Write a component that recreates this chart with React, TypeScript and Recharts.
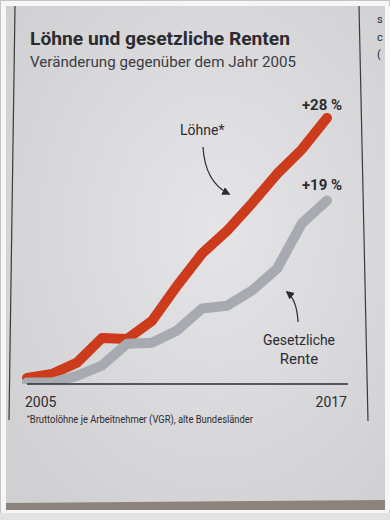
import { LineChart, Line, XAxis, YAxis, LabelList } from 'recharts'

// Veränderung gegenüber 2005, in Prozent
const years = ['2005', '2006', '2007', '2008', '2009', '2010', '2011', '2012', '2013', '2014', '2015', '2016', '2017']
const loehne = [0.5, 0.9, 2.1, 4.7, 4.6, 6.5, 10.2, 13.6, 16.0, 18.9, 22.0, 24.6, 27.9]
const rente = [0, 0, 0.7, 1.8, 4.1, 4.2, 5.5, 7.8, 8.1, 9.7, 12.0, 16.8, 19.2]
const endLabels = { loehne: '+28 %', rente: '+19 %' }
const shownYears = ['2005', '2017']

const RED = '#cd3b1d'
const GREY = '#a7aab0'
const INK = '#2b2b30'
const FONT = 'Roboto, "Open Sans", sans-serif'

const data = years.map((year, i) => ({ year, loehne: loehne[i], rente: rente[i] }))

function YearTick({ x, y, payload }: any) {
  if (!shownYears.includes(payload.value)) return <g />
  const first = payload.value === years[0]
  return (
    <text
      x={first ? x - 2 : x + 20}
      y={y + 15}
      textAnchor={first ? 'start' : 'end'}
      fill={INK}
      fontSize={14}
      fontFamily={FONT}
    >
      {payload.value}
    </text>
  )
}

// Endwert nur am letzten Punkt anzeigen
function endLabel(text: string, dy: number) {
  return (props: any) => {
    if (props.index !== years.length - 1) return null
    return (
      <text
        x={props.x - 5}
        y={props.y + dy}
        textAnchor="middle"
        fill={INK}
        fontSize={15}
        fontWeight={700}
        fontFamily={FONT}
      >
        {text}
      </text>
    )
  }
}

export default function App() {
  return (
    <div style={{ position: 'absolute', left: 0, top: 0, width: 390, height: 520, background: '#f4f4f4' }}>
      {/* Foto-Hintergrund: Papier, Spaltenlinien */}
      <svg width={390} height={520} style={{ position: 'absolute', left: 0, top: 0 }}>
        <defs>
          <radialGradient id="paper" cx="55%" cy="45%" r="70%">
            <stop offset="0%" stopColor="#e5e5e7" />
            <stop offset="100%" stopColor="#d0d0d3" />
          </radialGradient>
        </defs>
        <rect x={0.5} y={0.5} width={389} height={519} fill="#f6f6f6" stroke="#c4c4c4" />
        <rect x={0} y={513} width={390} height={7} fill="#e2e2e2" />
        <rect x={6} y={6} width={379} height={504} fill="#8b847c" />
        <polygon points="6,6 385,6 385,500 6,503" fill="url(#paper)" />
        <line x1={15} y1={6} x2={9} y2={420} stroke="#3a3a3e" strokeWidth={1.2} />
        <line x1={359} y1={6} x2={368} y2={421} stroke="#3a3a3e" strokeWidth={1.2} />
        <text x={377} y={23} fontSize={11} fill={INK} fontFamily={FONT}>s</text>
        <text x={377} y={41} fontSize={11} fill={INK} fontFamily={FONT}>c</text>
        <text x={377} y={58} fontSize={11} fill={INK} fontFamily={FONT}>(</text>
        <rect x={385} y={6} width={5} height={504} fill="#f6f6f6" />
      </svg>

      <div style={{ position: 'absolute', left: 0, top: 0 }}>
        <LineChart width={390} height={520} data={data} margin={{ top: 98, right: 42, bottom: 106, left: 27 }}>
          <XAxis
            dataKey="year"
            interval={0}
            tickLine={false}
            axisLine={{ stroke: '#2b2d33', strokeWidth: 1.5 }}
            padding={{ left: 0, right: 21 }}
            tick={<YearTick />}
          />
          <YAxis hide type="number" domain={[-0.15, 30]} allowDataOverflow />
          <Line
            type="linear"
            dataKey="loehne"
            stroke={RED}
            strokeWidth={10}
            strokeLinecap="round"
            strokeLinejoin="round"
            dot={false}
            isAnimationActive={false}
          >
            <LabelList dataKey="loehne" content={endLabel(endLabels.loehne, -8)} />
          </Line>
          <Line
            type="linear"
            dataKey="rente"
            stroke={GREY}
            strokeWidth={10}
            strokeLinecap="round"
            strokeLinejoin="round"
            dot={false}
            isAnimationActive={false}
          >
            <LabelList dataKey="rente" content={endLabel(endLabels.rente, -10)} />
          </Line>
        </LineChart>
      </div>

      {/* Titel, Beschriftungen, Pfeile */}
      <svg width={390} height={520} style={{ position: 'absolute', left: 0, top: 0, pointerEvents: 'none' }}>
        <defs>
          <marker id="head" viewBox="0 0 10 10" refX={8} refY={5} markerWidth={7} markerHeight={7} orient="auto">
            <path d="M0,0 L10,5 L0,10 z" fill={INK} />
          </marker>
        </defs>
        <text x={30} y={45} fontSize={18} fontWeight={700} fill={INK} fontFamily={FONT} textLength={260} lengthAdjust="spacingAndGlyphs">
          Löhne und gesetzliche Renten
        </text>
        <text x={30} y={67} fontSize={15} fill="#3c3c42" fontFamily={FONT} textLength={266} lengthAdjust="spacingAndGlyphs">
          Veränderung gegenüber dem Jahr 2005
        </text>
        <text x={180} y={135} fontSize={14} fill={INK} fontFamily={FONT}>Löhne*</text>
        <path d="M203,147 Q205,182 229,194" fill="none" stroke={INK} strokeWidth={1.2} markerEnd="url(#head)" />
        <text x={299} y={345} fontSize={15} fill={INK} fontFamily={FONT} textAnchor="middle" textLength={72} lengthAdjust="spacingAndGlyphs">
          Gesetzliche
        </text>
        <text x={299} y={364} fontSize={15} fill={INK} fontFamily={FONT} textAnchor="middle">Rente</text>
        <path d="M298,322 Q297,300 287,292" fill="none" stroke={INK} strokeWidth={1.2} markerEnd="url(#head)" />
        <text x={27} y={423} fontSize={10} fill={INK} fontFamily={FONT} textLength={226} lengthAdjust="spacingAndGlyphs">
          <tspan fontSize={7} dy={-3}>*</tspan>
          <tspan dy={3}>Bruttolöhne je Arbeitnehmer (VGR), alte Bundesländer</tspan>
        </text>
      </svg>
    </div>
  )
}
